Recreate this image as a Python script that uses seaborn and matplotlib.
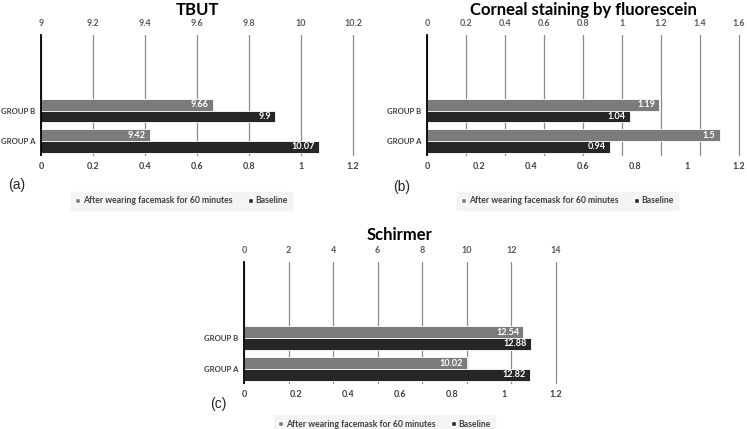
import matplotlib
matplotlib.use("Agg")
import matplotlib.pyplot as plt
import pandas as pd
import seaborn as sns
from matplotlib.patches import Patch

groups = ["GROUP B", "GROUP A"]
series = ["After wearing facemask for 60 minutes", "Baseline"]

# values per group, order = groups
tbut_after = [9.66, 9.42]
tbut_base = [9.9, 10.07]
corneal_after = [1.19, 1.5]
corneal_base = [1.04, 0.94]
schirmer_after = [12.54, 10.02]
schirmer_base = [12.88, 12.82]

# top axis ticks (the scale the bars live on) and the bottom dummy scale
tbut_ticks = [9, 9.2, 9.4, 9.6, 9.8, 10, 10.2]
corneal_ticks = [0, 0.2, 0.4, 0.6, 0.8, 1, 1.2, 1.4, 1.6]
schirmer_ticks = [0, 2, 4, 6, 8, 10, 12, 14]
bottom_ticks = [0, 0.2, 0.4, 0.6, 0.8, 1, 1.2]

colors = ["#7b7b7b", "#262626"]
sns.set_style("white")
plt.rcParams["font.family"] = ["Lato", "DejaVu Sans"]


def make_df(after, base):
    rows = []
    for g, a, b in zip(groups, after, base):
        rows.append({"group": g, "series": series[0], "value": a})
        rows.append({"group": g, "series": series[1], "value": b})
    return pd.DataFrame(rows)


def fmt(v):
    return ("%g" % v)


def draw_panel(ax, title, after, base, ticks, letter, letter_xy, leg_y, title_y):
    df = make_df(after, base)
    sns.barplot(data=df, x="value", y="group", hue="series", order=groups,
                hue_order=series, palette=colors, orient="h", width=0.76,
                edgecolor="white", linewidth=0.6, legend=False, ax=ax)

    # bottom dummy axis (Excel secondary scale)
    bot = ax.twiny()
    bot.set_xlim(0, 1.2)
    bot.set_xticks(bottom_ticks)
    bot.set_xticklabels([fmt(t) for t in bottom_ticks], fontweight="bold")
    bot.xaxis.set_ticks_position("bottom")
    bot.xaxis.set_label_position("bottom")
    bot.tick_params(axis="x", length=0, pad=5, labelsize=6.5, labelcolor="#404040")
    for s in bot.spines.values():
        s.set_visible(False)

    ax.set_xlim(ticks[0], ticks[-1])
    ax.set_ylim(1.46, -2.48)
    ax.set_xticks(ticks)
    ax.set_xticklabels([fmt(t) for t in ticks])
    ax.xaxis.set_ticks_position("top")
    ax.tick_params(axis="x", length=0, pad=5, labelsize=6.5, labelcolor="#595959")
    for tk in ax.xaxis.get_major_ticks():
        tk.label2.set_fontweight("bold")
    ax.tick_params(axis="y", length=0, pad=4, labelsize=5.6, labelcolor="#404040")
    for lab in ax.get_yticklabels():
        lab.set_fontweight("bold")
    ax.set_xlabel("")
    ax.set_ylabel("")
    ax.grid(axis="x", color="#8c8c8c", linewidth=0.9)
    for gl in ax.get_xgridlines():
        gl.set_clip_on(False)
    ax.set_axisbelow(True)
    for s in ["top", "right", "bottom"]:
        ax.spines[s].set_visible(False)
    ax.spines["left"].set_color("black")
    ax.spines["left"].set_linewidth(1.3)

    for cont, vals in zip(ax.containers, [after, base]):
        texts = ax.bar_label(cont, labels=[fmt(v) for v in vals], padding=-3,
                             color="white", fontsize=6.6, fontweight="bold")
        for t in texts:
            t.set_ha("right")

    ax.text(0.5, title_y, title, transform=ax.transAxes, fontsize=12,
            fontweight="bold", color="black", ha="center", va="center")

    handles = [Patch(facecolor=c) for c in colors]
    leg = ax.legend(handles, series, loc="upper center", bbox_to_anchor=(0.45, leg_y),
                    ncol=2, frameon=True, fontsize=6.2, handlelength=0.55,
                    handleheight=0.55, handletextpad=0.3, columnspacing=1.8,
                    borderpad=0.55, fancybox=False)
    leg.get_frame().set_facecolor("#f2f2f2")
    leg.get_frame().set_edgecolor("#f2f2f2")
    for t in leg.get_texts():
        t.set_fontweight("bold")
        t.set_color("#404040")

    ax.figure.text(letter_xy[0], letter_xy[1], letter, fontsize=10,
                   family="Liberation Sans", ha="left", va="center")


fig = plt.figure(figsize=(7.47, 4.29), dpi=100)
W, H = 747, 429


def add_axes(x0, y_top, w, h):
    return fig.add_axes([x0 / W, 1 - (y_top + h) / H, w / W, h / H])


ax_a = add_axes(41, 35, 312, 120)
ax_b = add_axes(427, 35, 312, 120)
ax_c = add_axes(244, 262, 312, 121)

draw_panel(ax_a, "TBUT", tbut_after, tbut_base, tbut_ticks, "(a)",
           (8 / W, 1 - 185 / H), -0.27, 1 + 25 / 120)
draw_panel(ax_b, "Corneal staining by fluorescein", corneal_after, corneal_base,
           corneal_ticks, "(b)", (393 / W, 1 - 187 / H), -0.27, 1 + 25 / 120)
draw_panel(ax_c, "Schirmer", schirmer_after, schirmer_base, schirmer_ticks, "(c)",
           (210 / W, 1 - 404 / H), -0.23, 1 + 27 / 121)

fig.savefig("out.png", dpi=100, facecolor="white")
